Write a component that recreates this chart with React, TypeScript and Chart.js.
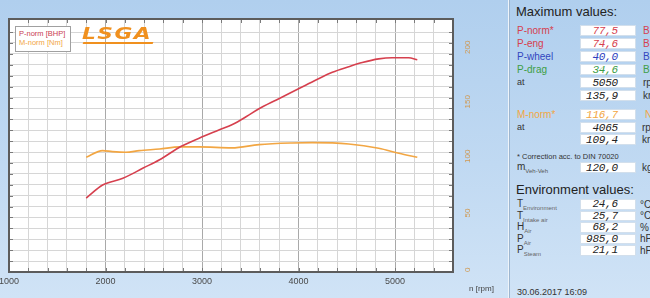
import React, { useEffect, useRef } from 'react';
import { Chart, registerables } from 'chart.js';

Chart.register(...registerables);

// ---- chart data ----
const rpmPower = [1800, 1970, 2180, 2390, 2560, 2780, 2970, 3180, 3320, 3460, 3590, 3770, 4010, 4180, 4350, 4520, 4660, 4830, 4970, 5140, 5230];
const pNormBhp = [26.7, 31.4, 33.8, 37.5, 40.5, 45.3, 48.3, 51.3, 53.3, 56.1, 58.9, 62.1, 66.3, 69.3, 72.1, 74.1, 75.6, 76.9, 77.3, 77.3, 76.6];
const rpmTorque = [1800, 1970, 2070, 2210, 2350, 2560, 2770, 2970, 3310, 3590, 3930, 4140, 4520, 4830, 5040, 5230];
const mNormNm = [105.2, 111.3, 110.4, 109.8, 111.3, 112.8, 114.7, 114.7, 113.8, 116.8, 118.3, 118.6, 117.4, 113.5, 108.9, 105.2];

const xTickLabels = [1000, 2000, 3000, 4000, 5000];
const yTickLabels = [0, 50, 100, 150, 200];
const legendNames = ['P-norm [BHP]', 'M-norm [Nm]'];
const xAxisTitle = 'n [rpm]';

// ---- panel data ----
const maxTitle = 'Maximum values:';
const maxRowLabels = ['P-norm*', 'P-eng', 'P-wheel', 'P-drag', 'at', ''];
const maxRowValues = ['77,5', '74,6', '40,0', '34,6', '5050', '135,9'];
const maxRowUnits = ['BHP', 'BHP', 'BHP', 'BHP', 'rpm', 'km/h'];

const torqueRowLabels = ['M-norm*', 'at', ''];
const torqueRowValues = ['116,7', '4065', '109,4'];
const torqueRowUnits = ['Nm', 'rpm', 'km/h'];

const correctionNote = '* Correction acc. to DIN 70020';
const massSymbol = 'm';
const massSub = 'Veh-Veh';
const massValue = '120,0';
const massUnit = 'kg';

const envTitle = 'Environment values:';
const envRowSymbols = ['T', 'T', 'H', 'P', 'P'];
const envRowSubs = ['Environment', 'Intake air', 'Air', 'Air', 'Steam'];
const envRowValues = ['24,6', '25,7', '68,2', '985,0', '21,1'];
const envRowUnits = ['°C', '°C', '%', 'hPa', 'hPa'];
const stamp = '30.06.2017  16:09';
const logoText = 'LSGA';

const RED = '#d6404e';
const ORANGE = '#f2a643';

const framePlugin = {
  id: 'frame',
  beforeDraw(chart: any) {
    const { ctx, chartArea: a } = chart;
    ctx.save();
    ctx.fillStyle = '#ffffff';
    ctx.fillRect(a.left, a.top, a.right - a.left, a.bottom - a.top);
    ctx.restore();
  },
  afterDraw(chart: any) {
    const { ctx, chartArea: a, scales } = chart;
    ctx.save();
    ctx.strokeStyle = '#7a7a7a';
    ctx.lineWidth = 1;
    ctx.beginPath();
    scales.yT.ticks.forEach((t: any) => {
      const y = Math.round(scales.yT.getPixelForValue(t.value)) + 0.5;
      ctx.moveTo(a.left, y); ctx.lineTo(a.left + 4, y);
      ctx.moveTo(a.right - 4, y); ctx.lineTo(a.right, y);
    });
    scales.x.ticks.forEach((t: any) => {
      const x = Math.round(scales.x.getPixelForValue(t.value)) + 0.5;
      ctx.moveTo(x, a.top); ctx.lineTo(x, a.top + 4);
      ctx.moveTo(x, a.bottom - 4); ctx.lineTo(x, a.bottom);
    });
    ctx.stroke();
    ctx.strokeStyle = '#5c5c5c';
    ctx.lineWidth = 2;
    ctx.strokeRect(a.left, a.top, a.right - a.left, a.bottom - a.top);
    ctx.restore();
  },
};

function ChartCanvas() {
  const ref = useRef<HTMLCanvasElement | null>(null);
  useEffect(() => {
    if (!ref.current) return;
    Chart.defaults.font.family = '"Liberation Sans", Arial, sans-serif';
    const chart = new Chart(ref.current, {
      type: 'line',
      data: {
        datasets: [
          {
            label: legendNames[0],
            data: rpmPower.map((x, i) => ({ x, y: pNormBhp[i] })),
            yAxisID: 'yP',
            borderColor: RED,
            borderWidth: 1.6,
            pointRadius: 0,
            cubicInterpolationMode: 'monotone',
            fill: false,
          },
          {
            label: legendNames[1],
            data: rpmTorque.map((x, i) => ({ x, y: mNormNm[i] })),
            yAxisID: 'yT',
            borderColor: ORANGE,
            borderWidth: 1.6,
            pointRadius: 0,
            cubicInterpolationMode: 'monotone',
            fill: false,
          },
        ],
      },
      options: {
        animation: false,
        responsive: false,
        maintainAspectRatio: false,
        layout: { padding: { left: 9, top: 19, right: 0, bottom: 0 } },
        plugins: { legend: { display: false }, tooltip: { enabled: false } },
        scales: {
          x: {
            type: 'linear',
            position: 'bottom',
            min: 1000,
            max: 5600,
            border: { display: false },
            grid: {
              color: (c: any) => (c.tick && c.tick.value % 1000 === 0 ? '#a9a9a9' : '#d6d6d6'),
              drawTicks: false,
              lineWidth: 1,
            },
            ticks: {
              stepSize: 200,
              autoSkip: false,
              minRotation: 0,
              maxRotation: 0,
              padding: 4,
              color: '#4a4a4a',
              font: { size: 9 },
              callback: (v: any) => (xTickLabels.includes(Number(v)) ? String(v) : ''),
            },
            afterFit: (s: any) => { s.height = 26; s.paddingLeft = 0; s.paddingRight = 0; },
          },
          yT: {
            type: 'linear',
            position: 'right',
            min: 0,
            max: 232,
            border: { display: false },
            grid: { color: '#d6d6d6', drawTicks: false, lineWidth: 1 },
            ticks: {
              stepSize: 10,
              autoSkip: false,
              minRotation: 90,
              maxRotation: 90,
              padding: 15,
              color: '#d09850',
              font: { size: 8 },
              callback: (v: any) => (yTickLabels.includes(Number(v)) ? String(v) : ''),
            },
            afterFit: (s: any) => { s.width = 55; s.paddingTop = 0; s.paddingBottom = 0; },
          },
          yP: { type: 'linear', display: false, min: 0, max: 91.3 },
        },
      } as any,
      plugins: [framePlugin],
    });
    return () => chart.destroy();
  }, []);
  return <canvas ref={ref} width={508} height={298} style={{ position: 'absolute', left: 0, top: 0, width: 508, height: 298 }} />;
}

const lcd: React.CSSProperties = {
  position: 'absolute',
  left: 580,
  width: 56,
  height: 11,
  background: '#ffffff',
  boxSizing: 'border-box',
  border: '1px solid #d2dfec',
  fontFamily: '"Liberation Mono", monospace',
  fontStyle: 'italic',
  fontSize: 11,
  lineHeight: '10px',
  textAlign: 'right',
  paddingRight: 17,
  letterSpacing: -0.2,
  whiteSpace: 'nowrap',
};

const lbl: React.CSSProperties = {
  position: 'absolute',
  left: 517,
  fontSize: 10,
  lineHeight: '11px',
  whiteSpace: 'nowrap',
};

export default function App() {
  const maxLabelColors = [RED, RED, '#3346c0', '#3d9e46', '#333', '#333'];
  const maxValueColors = [RED, RED, '#2e3fc0', '#3d9e46', '#222', '#222'];
  const maxTops = [25, 38, 51, 64, 77, 90];
  const torqueTops = [109, 122, 134];
  const envTops = [199, 210.5, 222, 233.5, 245];
  return (
    <div
      style={{
        position: 'fixed',
        left: 0,
        top: 0,
        width: 650,
        height: 298,
        overflow: 'hidden',
        background: 'linear-gradient(180deg, #b0cfee 0%, #c0d9f2 55%, #d0e3f6 100%)',
        fontFamily: '"Liberation Sans", Arial, sans-serif',
        color: '#222',
      }}
    >
      <ChartCanvas />

      {/* legend */}
      <div style={{ position: 'absolute', left: 15, top: 26, width: 56, height: 26, boxSizing: 'border-box', border: '1px solid #a0a0a0', background: '#fff' }} />
      <div style={{ position: 'absolute', left: 19, top: 29, fontSize: 7.5, lineHeight: '9px', color: '#c9404f', whiteSpace: 'nowrap' }}>{legendNames[0]}</div>
      <div style={{ position: 'absolute', left: 19, top: 38, fontSize: 7.5, lineHeight: '9px', color: ORANGE, whiteSpace: 'nowrap' }}>{legendNames[1]}</div>

      {/* logo */}
      <div style={{ position: 'absolute', left: 82, top: 27, fontFamily: '"DejaVu Sans", sans-serif', fontWeight: 'bold', fontStyle: 'italic', fontSize: 15, lineHeight: '15px', letterSpacing: 1, color: '#f0901e', whiteSpace: 'nowrap', transform: 'scaleX(1.45)', transformOrigin: '0 0' }}>{logoText}</div>
      <div style={{ position: 'absolute', left: 83, top: 42, width: 70, height: 2, background: '#f0901e', transform: 'skewX(-20deg)' }} />

      {/* x axis title */}
      <div style={{ position: 'absolute', left: 469, top: 284, fontSize: 8, lineHeight: '10px', color: '#444', whiteSpace: 'nowrap' }}>{xAxisTitle}</div>

      {/* separator */}
      <div style={{ position: 'absolute', left: 508, top: 0, width: 1, height: 298, background: '#eef4fa' }} />
      <div style={{ position: 'absolute', left: 509, top: 0, width: 1, height: 298, background: '#9db6d0' }} />

      {/* maximum values */}
      <div style={{ position: 'absolute', left: 516, top: 4, fontSize: 13, lineHeight: '15px', color: '#222', whiteSpace: 'nowrap' }}>{maxTitle}</div>
      {maxRowLabels.map((t, i) => (
        <React.Fragment key={'m' + i}>
          <div style={{ ...lbl, top: maxTops[i], color: maxLabelColors[i], fontSize: t === 'at' ? 9 : 10 }}>{t}</div>
          <div style={{ ...lcd, top: maxTops[i], color: maxValueColors[i] }}>{maxRowValues[i]}</div>
          <div style={{ ...lbl, left: 643, top: maxTops[i], color: maxLabelColors[i] }}>{maxRowUnits[i]}</div>
        </React.Fragment>
      ))}

      {torqueRowLabels.map((t, i) => (
        <React.Fragment key={'t' + i}>
          <div style={{ ...lbl, top: torqueTops[i], color: i === 0 ? ORANGE : '#333', fontSize: t === 'at' ? 9 : 10 }}>{t}</div>
          <div style={{ ...lcd, top: torqueTops[i], color: i === 0 ? ORANGE : '#222' }}>{torqueRowValues[i]}</div>
          <div style={{ ...lbl, left: i === 0 ? 645 : 642, top: torqueTops[i], color: i === 0 ? ORANGE : '#333' }}>{torqueRowUnits[i]}</div>
        </React.Fragment>
      ))}

      <div style={{ ...lbl, top: 151, fontSize: 7.5, color: '#333' }}>{correctionNote}</div>
      <div style={{ ...lbl, top: 161, color: '#333' }}>
        {massSymbol}
        <span style={{ fontSize: 6, verticalAlign: 'sub', color: '#555' }}>{massSub}</span>
      </div>
      <div style={{ ...lcd, top: 162, color: '#222' }}>{massValue}</div>
      <div style={{ ...lbl, left: 642, top: 162, color: '#333' }}>{massUnit}</div>

      {/* environment values */}
      <div style={{ position: 'absolute', left: 516, top: 182, fontSize: 13, lineHeight: '15px', color: '#222', whiteSpace: 'nowrap' }}>{envTitle}</div>
      {envRowSymbols.map((s, i) => (
        <React.Fragment key={'e' + i}>
          <div style={{ ...lbl, top: envTops[i] - 1, color: '#333' }}>
            {s}
            <span style={{ fontSize: 6, verticalAlign: 'sub', color: '#666' }}>{envRowSubs[i]}</span>
          </div>
          <div style={{ ...lcd, top: envTops[i], height: 10.5, lineHeight: '9.5px', color: '#222' }}>{envRowValues[i]}</div>
          <div style={{ ...lbl, left: 640, top: envTops[i] - 0.5, color: '#333' }}>{envRowUnits[i]}</div>
        </React.Fragment>
      ))}

      <div style={{ ...lbl, top: 287, fontSize: 9, color: '#333' }}>{stamp}</div>
    </div>
  );
}
